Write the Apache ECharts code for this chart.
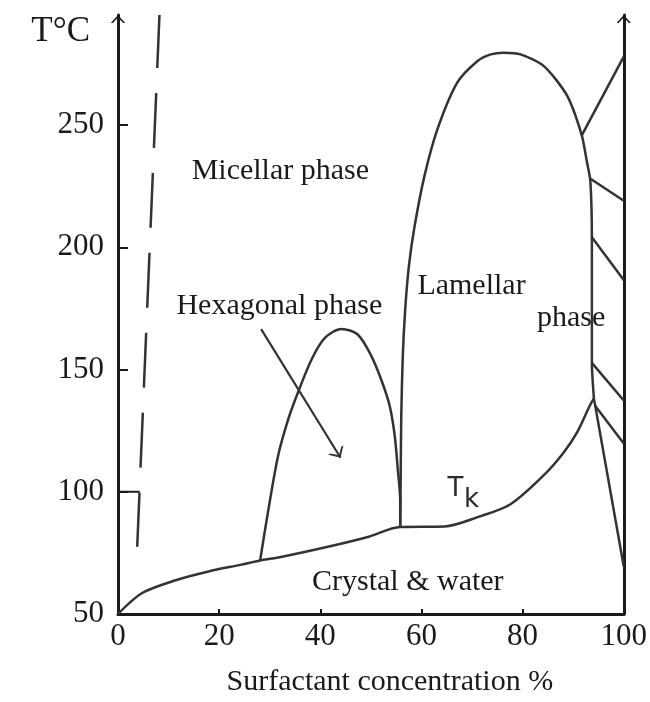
<!DOCTYPE html>
<html>
<head>
<meta charset="utf-8">
<script src="https://cdn.jsdelivr.net/npm/echarts@6/dist/echarts.min.js"></script>
<style>
  html, body { margin: 0; padding: 0; background: #fff; }
  #chart { width: 650px; height: 702px; }
</style>
</head>
<body>
<div id="chart"></div>
<script>
// Axis tick values (surfactant %, temperature °C)
const xTickLabels = [0, 20, 40, 60, 80, 100];
const xTickMarks = [20, 40, 60, 80];
const yTickLabels = [50, 100, 150, 200, 250];
const yTickMarks = [100, 150, 200, 250];

// Krafft boundary T_k : [concentration %, T °C]
const krafftCurve = [
  [0, 50], [4.7, 58.5], [11.4, 63.8], [17.9, 67.4], [24.4, 70.2], [28.1, 71.9],
  [31.7, 73.1], [41.5, 77.5], [49.4, 81.5], [55.8, 85.6], [64.6, 85.8],
  [71.1, 89.6], [77.6, 94.9], [84.3, 107.0], [88.2, 116.3], [90.8, 124.4],
  [93.3, 135.3], [94.1, 138.2]
];

// Hexagonal phase dome
const hexagonalDome = [
  [28.1, 71.9], [29.7, 92.2], [31.7, 115.1], [33.7, 129.9], [35.6, 140.7],
  [38.3, 154.2], [40.9, 162.9], [44.2, 166.6], [47.4, 164.3], [50.1, 155.5],
  [52.0, 146.1], [53.7, 135.3], [54.7, 123.2], [55.3, 109.7], [55.8, 96.2],
  [55.8, 85.6]
];

// Lamellar phase dome
const lamellarDome = [
  [55.8, 85.6], [55.9, 107.0], [56.0, 130.0], [56.3, 155.0], [56.8, 175.0],
  [57.5, 192.0], [58.6, 208.1], [60.6, 229.2], [63.2, 248.5], [67.1, 267.4],
  [71.1, 276.2], [73.7, 278.9], [76.3, 279.6], [79.6, 278.9], [84.2, 274.1],
  [88.8, 262.0], [91.7, 245.8], [92.7, 235.1], [93.4, 227.0], [93.7, 202.7],
  [93.7, 179.8], [93.7, 152.7], [94.1, 138.2]
];

// Boundaries on the concentrated side, running to the 100 % axis
const upperBranch = [[91.7, 245.8], [100, 278]];
const tieLines = [
  [[93.2, 228.3], [100, 219.0]],
  [[93.7, 204.1], [100, 186.6]],
  [[93.7, 152.7], [100, 137.3]],
  [[94.3, 135.3], [100, 119.7]],
  [[94.1, 138.2], [100, 69.4]]
];

// Dashed dilute-side boundary and its joint with the 100 °C tick
const diluteBoundary = [[8.2, 295], [3.8, 77.5]];
const diluteJoint = [[0, 100], [4.3, 100]];

// Pointer from the hexagonal label into its region
const pointer = [[28.3, 166.5], [44.0, 113.9]];

// Region names
const regionLabels = [
  { name: 'Micellar phase', value: [32.1, 231.3] },
  { name: 'Hexagonal phase', value: [31.9, 175.9] },
  { name: 'Lamellar', value: [69.9, 184.0] },
  { name: 'phase', value: [89.6, 171.0] },
  { name: 'Crystal & water', value: [57.3, 63.1] }
];
const krafftSymbol = [
  { name: 'T', value: [66.7, 101.0] },
  { name: 'k', value: [69.9, 96.5] }
];

const serif = 'Liberation Serif';
const ink = '#1a1a1a';
const curveInk = '#333333';
// open chevron, tip at the centre of its box
const chevron = 'path://M10,10 L19,20 L16.4,20 L10,13.2 L3.6,20 L1,20 Z M10,0 L10.05,0.05 L9.95,0.05 Z';

function boundary(data, extra) {
  return Object.assign({
    type: 'line',
    data: data,
    showSymbol: false,
    symbol: 'none',
    clip: false,
    smooth: 0.3,
    silent: true,
    lineStyle: { color: curveInk, width: 2.5 }
  }, extra || {});
}

function textLayer(data, font, size, color) {
  return {
    type: 'scatter',
    symbolSize: 0,
    silent: true,
    clip: false,
    itemStyle: { opacity: 1 },
    data: data,
    label: {
      show: true,
      position: 'inside',
      formatter: '{b}',
      fontFamily: font,
      fontSize: size,
      color: color,
      opacity: 1,
      align: 'center',
      verticalAlign: 'middle'
    }
  };
}

const chart = echarts.init(document.getElementById('chart'), null, { renderer: 'canvas' });

const option = {
  animation: false,
  backgroundColor: '#ffffff',
  grid: { left: 118, right: 23, top: 15, bottom: 81 },
  xAxis: {
    type: 'value',
    min: 0,
    max: 100,
    interval: 20,
    name: 'Surfactant concentration %',
    nameLocation: 'middle',
    nameGap: 53,
    nameTextStyle: { fontFamily: serif, fontSize: 30, color: ink, padding: [0, 0, 0, 38] },
    axisLine: { show: true, lineStyle: { color: ink, width: 3 } },
    axisTick: { show: true, inside: true, length: 5, customValues: xTickMarks, lineStyle: { color: ink, width: 2 } },
    axisLabel: { customValues: xTickLabels, fontFamily: serif, fontSize: 31, color: ink, margin: 7 },
    splitLine: { show: false }
  },
  yAxis: [
    {
      type: 'value',
      min: 50,
      max: 295,
      interval: 50,
      name: 'T°C',
      nameLocation: 'end',
      nameGap: -17,
      nameTextStyle: { fontFamily: serif, fontSize: 35, color: ink, align: 'right', verticalAlign: 'middle', padding: [0, 28, 0, 0] },
      axisLine: { show: true, symbol: ['none', chevron], symbolSize: [16, 16], lineStyle: { color: ink, width: 3 } },
      axisTick: { show: true, inside: true, length: 10, customValues: yTickMarks, lineStyle: { color: ink, width: 2 } },
      axisLabel: { customValues: yTickLabels, fontFamily: serif, fontSize: 31, color: ink, margin: 14 },
      splitLine: { show: false }
    },
    {
      type: 'value',
      position: 'right',
      min: 50,
      max: 295,
      interval: 50,
      axisLine: { show: true, symbol: ['none', chevron], symbolSize: [16, 16], lineStyle: { color: ink, width: 3 } },
      axisTick: { show: false },
      axisLabel: { show: false },
      splitLine: { show: false }
    }
  ],
  series: [
    boundary(krafftCurve),
    boundary(hexagonalDome),
    boundary(lamellarDome, { smooth: 0.25 }),
    boundary(upperBranch, { smooth: false }),
    ...tieLines.map(seg => boundary(seg, { smooth: false })),
    boundary(diluteBoundary, {
      smooth: false,
      lineStyle: { color: curveInk, width: 2.5, type: [55, 25], dashOffset: 2 }
    }),
    boundary(diluteJoint, { smooth: false, lineStyle: { color: ink, width: 2 } }),
    {
      type: 'lines',
      coordinateSystem: 'cartesian2d',
      silent: true,
      symbol: ['none', chevron],
      symbolSize: 18,
      lineStyle: { color: curveInk, width: 2.2, opacity: 1 },
      data: [{ coords: pointer }]
    },
    textLayer(regionLabels, serif, 30, ink),
    textLayer(krafftSymbol, 'DejaVu Sans', 26, '#2a2a2a')
  ]
};

chart.setOption(option);
</script>
</body>
</html>
